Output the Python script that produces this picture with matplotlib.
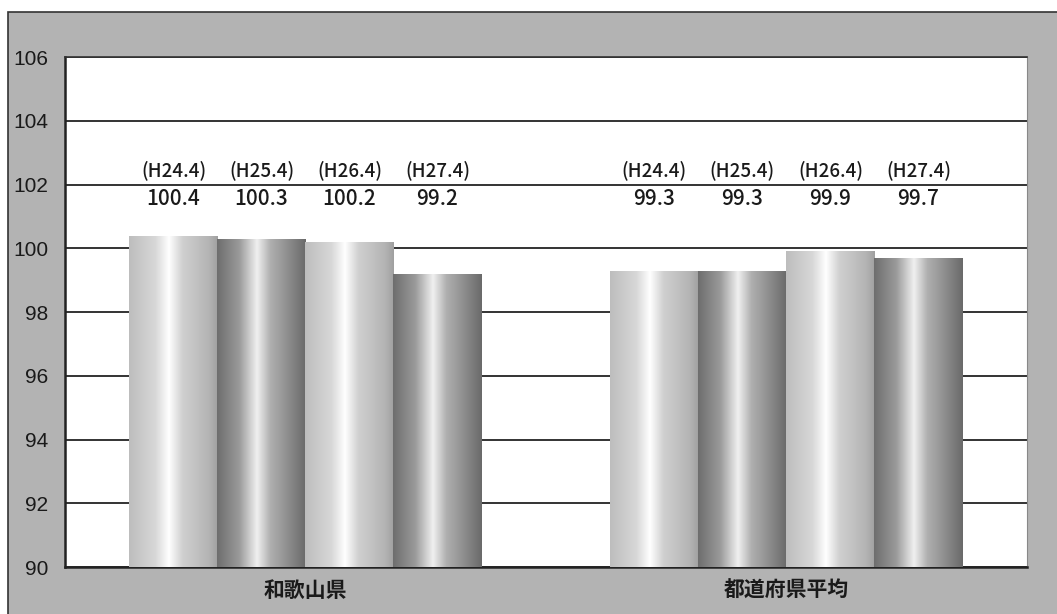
import matplotlib.pyplot as plt
import numpy as np
from matplotlib.colors import LinearSegmentedColormap
from matplotlib.patches import Rectangle

plt.rcParams['font.family'] = ['Noto Sans CJK JP', 'DejaVu Sans']

groups = ["和歌山県", "都道府県平均"]
periods = ["(H24.4)", "(H25.4)", "(H26.4)", "(H27.4)"]
wakayama = [100.4, 100.3, 100.2, 99.2]
national = [99.3, 99.3, 99.9, 99.7]
values = [wakayama, national]

yticks = [90, 92, 94, 96, 98, 100, 102, 104, 106]

# cylinder shading: light bars and dark bars alternate
light = LinearSegmentedColormap.from_list(
    "light", [(0, "#bdbdbd"), (0.3, "#d8d8d8"), (0.45, "#ffffff"),
              (0.6, "#d0d0d0"), (0.9, "#b4b4b4"), (1, "#a0a0a0")])
dark = LinearSegmentedColormap.from_list(
    "dark", [(0, "#6e6e6e"), (0.25, "#9a9a9a"), (0.45, "#f0f0f0"),
             (0.6, "#b0b0b0"), (0.9, "#7c7c7c"), (1, "#6a6a6a")])
cmaps = [light, dark, light, dark]

fig = plt.figure(figsize=(10.57, 6.14), dpi=100)
fig.patches.append(Rectangle((0.0076, -0.01), 1.1, 0.99, transform=fig.transFigure,
                             facecolor="#b3b3b3", edgecolor="#333333", linewidth=1.2,
                             zorder=-10))

ax = fig.add_axes([0.0615, 0.0765, 0.910, 0.8306])
ax.set_facecolor("white")

w = 0.183
grad = np.linspace(0, 1, 256).reshape(1, -1)
for g, vals in enumerate(values):
    for i, v in enumerate(vals):
        x = g + (i - 1.5) * w
        bar = ax.bar(x, v - 90, bottom=90, width=w, color="none", edgecolor="none",
                     zorder=3)[0]
        im = ax.imshow(grad, cmap=cmaps[i], aspect="auto",
                       extent=[x - w / 2, x + w / 2, 90, v], zorder=3)
        im.set_clip_path(bar)
        ax.text(x, 102.45, periods[i], ha="center", va="center", fontsize=13.5,
                fontweight="medium", color="#1a1a1a")
        ax.text(x, 101.55, f"{v:.1f}", ha="center", va="center", fontsize=15,
                fontweight="medium", color="#1a1a1a")

ax.set_xlim(-0.5, 1.5)
ax.set_ylim(90, 106)
ax.set_yticks(yticks)
ax.set_yticklabels([str(t) for t in yticks], fontsize=15, color="#1a1a1a",
                   family=["Liberation Sans", "DejaVu Sans"])
ax.set_xticks([0, 1])
ax.set_xticklabels(groups, fontsize=15, fontweight="bold", color="#1a1a1a")
ax.tick_params(axis="y", length=0, pad=12)
ax.tick_params(axis="x", length=0, pad=9)
ax.yaxis.grid(True, color="#333333", linewidth=1.4, zorder=1)
ax.set_axisbelow(True)

for s in ["left", "bottom"]:
    ax.spines[s].set_linewidth(1.8)
    ax.spines[s].set_color("#222222")
ax.spines["top"].set_linewidth(1.2)
ax.spines["top"].set_color("#333333")
ax.spines["right"].set_linewidth(0.8)
ax.spines["right"].set_color("#888888")

fig.savefig("out.png", dpi=100)
